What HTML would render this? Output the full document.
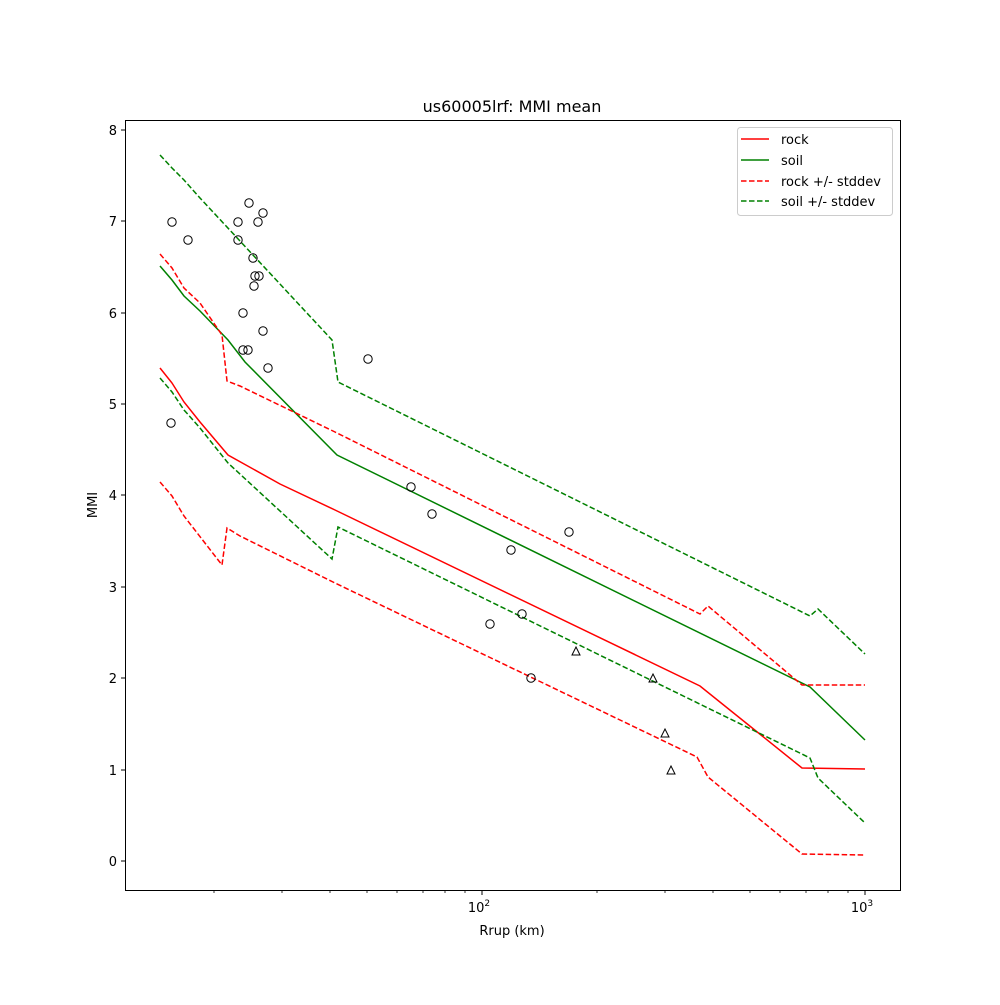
<!DOCTYPE html>
<html><head><meta charset="utf-8"><style>body{margin:0;background:#fff}</style></head><body>
<svg width="1000" height="1000" xmlns="http://www.w3.org/2000/svg" font-family="DejaVu Sans, Liberation Sans, sans-serif">
<rect width="1000" height="1000" fill="#fff"/>
<g fill="none" stroke-width="1.5">
<polyline stroke="red" points="160,368 172,383 184,402 200,422 228,455 280,484 335,510 700,686 802,768 865,769"/>
<polyline stroke="green" points="160,266 172,280 184,296 200,311 228,340 245,362 337,455 810,687 865,740"/>
<g stroke-dasharray="5.5,2.5">
<polyline stroke="red" points="160,254 172,268 184,288 200,303 222,335 227,381 240,386 335,432 700,614 708,606 802,685 865,685"/>
<polyline stroke="red" points="160,482 172,496 184,516 222,565 227,528 240,536 335,583 697,757 708,777 802,854 865,855"/>
<polyline stroke="green" points="160,155 172,168 184,180 200,198 332,340 338,382 810,616 818,609 865,654"/>
<polyline stroke="green" points="160,378 172,392 184,410 200,428 228,463 332,559 338,527 810,758 818,778 865,823"/>
</g>
</g>
<g fill="none" stroke="#000" stroke-width="1">
<circle cx="172" cy="222" r="4.2"/><circle cx="188" cy="240" r="4.2"/><circle cx="171" cy="423" r="4.2"/><circle cx="238" cy="222" r="4.2"/><circle cx="238" cy="240" r="4.2"/><circle cx="249" cy="203" r="4.2"/><circle cx="263" cy="213" r="4.2"/><circle cx="258" cy="222" r="4.2"/><circle cx="253" cy="258" r="4.2"/><circle cx="255" cy="276" r="4.2"/><circle cx="254" cy="286" r="4.2"/><circle cx="259" cy="276" r="4.2"/><circle cx="243" cy="313" r="4.2"/><circle cx="263" cy="331" r="4.2"/><circle cx="243" cy="350" r="4.2"/><circle cx="248" cy="350" r="4.2"/><circle cx="268" cy="368" r="4.2"/><circle cx="368" cy="359" r="4.2"/><circle cx="411" cy="487" r="4.2"/><circle cx="432" cy="514" r="4.2"/><circle cx="511" cy="550" r="4.2"/><circle cx="569" cy="532" r="4.2"/><circle cx="490" cy="624" r="4.2"/><circle cx="522" cy="614" r="4.2"/><circle cx="531" cy="678" r="4.2"/>
<polygon points="576,647 580,655 572,655"/><polygon points="653,674 657,682 649,682"/><polygon points="665,729 669,737 661,737"/><polygon points="671,766 675,774 667,774"/>
</g>
<rect x="125.5" y="120.5" width="775" height="770" fill="none" stroke="#000"/>
<g stroke="#000">
<line x1="482" y1="890" x2="482" y2="895"/><line x1="865" y1="890" x2="865" y2="895"/>
<g stroke-width="0.8">
<line x1="214" y1="890" x2="214" y2="893"/><line x1="282" y1="890" x2="282" y2="893"/><line x1="330" y1="890" x2="330" y2="893"/><line x1="367" y1="890" x2="367" y2="893"/><line x1="397" y1="890" x2="397" y2="893"/><line x1="423" y1="890" x2="423" y2="893"/><line x1="445" y1="890" x2="445" y2="893"/><line x1="465" y1="890" x2="465" y2="893"/><line x1="597" y1="890" x2="597" y2="893"/><line x1="665" y1="890" x2="665" y2="893"/><line x1="713" y1="890" x2="713" y2="893"/><line x1="750" y1="890" x2="750" y2="893"/><line x1="780" y1="890" x2="780" y2="893"/><line x1="806" y1="890" x2="806" y2="893"/><line x1="828" y1="890" x2="828" y2="893"/><line x1="848" y1="890" x2="848" y2="893"/>
</g>
<line x1="121" y1="861" x2="125" y2="861"/><line x1="121" y1="770" x2="125" y2="770"/><line x1="121" y1="678" x2="125" y2="678"/><line x1="121" y1="587" x2="125" y2="587"/><line x1="121" y1="495" x2="125" y2="495"/><line x1="121" y1="404" x2="125" y2="404"/><line x1="121" y1="313" x2="125" y2="313"/><line x1="121" y1="221" x2="125" y2="221"/><line x1="121" y1="130" x2="125" y2="130"/>
</g>
<g font-size="13" text-anchor="end">
<text x="117" y="866">0</text><text x="117" y="775">1</text><text x="117" y="683">2</text><text x="117" y="592">3</text><text x="117" y="500">4</text><text x="117" y="409">5</text><text x="117" y="318">6</text><text x="117" y="226">7</text><text x="117" y="135">8</text>
</g>
<g font-size="13" text-anchor="middle">
<text x="479" y="912">10<tspan font-size="9" dy="-6">2</tspan></text>
<text x="862" y="912">10<tspan font-size="9" dy="-6">3</tspan></text>
<text x="512" y="935">Rrup (km)</text>
<text x="97" y="505" transform="rotate(-90 97 505)">MMI</text>
<text x="512" y="112" font-size="16">us60005lrf: MMI mean</text>
</g>
<rect x="737.5" y="127.5" width="155" height="88" rx="3" fill="#fff" stroke="#ccc"/>
<g stroke-width="1.5">
<line x1="741" y1="139" x2="769" y2="139" stroke="red"/>
<line x1="741" y1="160" x2="769" y2="160" stroke="green"/>
<line x1="741" y1="181" x2="769" y2="181" stroke="red" stroke-dasharray="5.5,2.5"/>
<line x1="741" y1="201" x2="769" y2="201" stroke="green" stroke-dasharray="5.5,2.5"/>
</g>
<g font-size="13">
<text x="781" y="144">rock</text><text x="781" y="165">soil</text><text x="781" y="186">rock +/- stddev</text><text x="781" y="206">soil +/- stddev</text>
</g>
</svg>
</body></html>
